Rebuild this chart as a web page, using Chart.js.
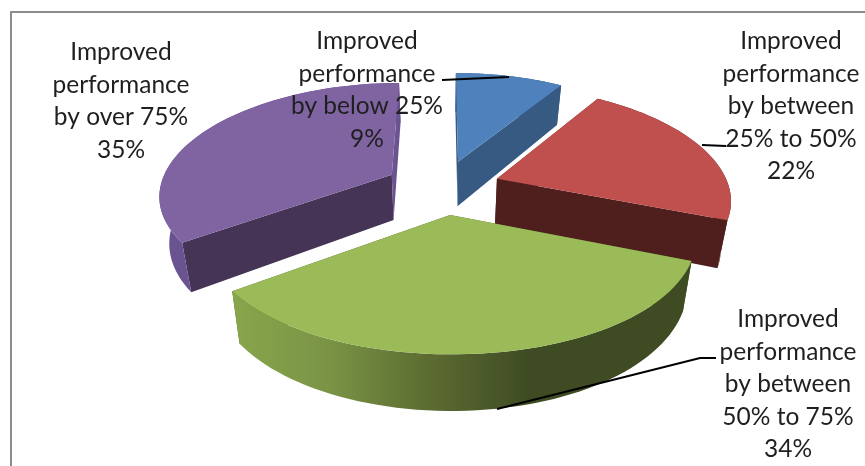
<!DOCTYPE html>
<html lang="en">
<head>
    <meta charset="UTF-8">
    <title>Improved performance</title>
    <script src="https://cdn.jsdelivr.net/npm/chart.js"></script>
    <style>
        html, body { margin: 0; padding: 0; background: #fff; overflow: hidden; }
        canvas { display: block; }
    </style>
</head>
<body>
<canvas id="pie" width="865" height="466"></canvas>
<script>
    const categories = [
        'Improved performance by below 25%',
        'Improved performance by between 25% to 50%',
        'Improved performance by between 50% to 75%',
        'Improved performance by over 75%'
    ];
    const percentValues = [9, 22, 34, 35];
    const sliceColors = ['#4f81bd', '#c0504d', '#9bbb59', '#8064a2'];
    const cutFaceColors = ['#375a82', '#4f1f1e', '#4a5a2a', '#453455'];
    const rimColors = ['#375a82', '#4f1f1e', '#3f4c23', '#6b5290'];

    // label lines, in the same order as the categories
    const labelLines = [
        ['Improved', 'performance', 'by below 25%', '9%'],
        ['Improved', 'performance', 'by between', '25% to 50%', '22%'],
        ['Improved', 'performance', 'by between', '50% to 75%', '34%'],
        ['Improved', 'performance', 'by over 75%', '35%']
    ];
    const labelCenters = [[367, 50], [791, 50], [788, 328], [121, 61]];
    const leaderLines = [
        [[442, 80], [509, 77]],
        [[702, 145], [726, 146]],
        [[716, 358], [700, 358], [497, 409]]
    ];

    // simple 3D camera for the tilted pie, x and y foreshorten differently
    const cam = { cx: 442.5, cy: 187, rx: 232, ry: 109, perspX: 0.17, perspY: 0.15, depth: 46, shrink: 0.035, explode: 0.25 };
    const lineHeight = 32.6;

    function project(wx, wy, drop) {
        const sx = 1 / (1 - cam.perspX * wy);
        const sy = 1 / (1 - cam.perspY * wy);
        return {
            x: cam.cx + cam.rx * wx * sx * (1 - drop * cam.shrink),
            y: cam.cy + cam.ry * wy * sy + drop * cam.depth * sy
        };
    }

    // world position of a point on the slice rim (r=1) or its tip (r=0)
    function slicePoint(arc, angle, r, drop) {
        const mid = (arc.startAngle + arc.endAngle) / 2;
        return project(
            cam.explode * Math.cos(mid) + r * Math.cos(angle),
            cam.explode * Math.sin(mid) + r * Math.sin(angle),
            drop
        );
    }

    function polygon(ctx, points, fill) {
        ctx.beginPath();
        points.forEach((p, i) => i ? ctx.lineTo(p.x, p.y) : ctx.moveTo(p.x, p.y));
        ctx.closePath();
        ctx.fillStyle = fill;
        ctx.fill();
    }

    function edgeFace(ctx, arc, edge, fill) {
        polygon(ctx, [
            slicePoint(arc, edge, 0, 0), slicePoint(arc, edge, 1, 0),
            slicePoint(arc, edge, 1, 1), slicePoint(arc, edge, 0, 1)
        ], fill);
    }

    function rimPoints(arc, drop, reverse) {
        const pts = [];
        const steps = 60;
        for (let i = 0; i <= steps; i++) {
            const t = reverse ? 1 - i / steps : i / steps;
            pts.push(slicePoint(arc, arc.startAngle + (arc.endAngle - arc.startAngle) * t, 1, drop));
        }
        return pts;
    }

    function greenRim(ctx) {
        const g = ctx.createLinearGradient(237, 0, 692, 0);
        g.addColorStop(0, '#87a54b');
        g.addColorStop(0.2, '#7a9446');
        g.addColorStop(0.42, '#5c6c31');
        g.addColorStop(0.64, '#3f4c23');
        g.addColorStop(1, '#3f4c23');
        return g;
    }

    const pie3d = {
        id: 'pie3d',
        beforeDatasetsDraw(chart) {
            const ctx = chart.ctx;
            const arcs = chart.getDatasetMeta(0).data;
            // back to front
            [0, 3, 1, 2].forEach(i => {
                const arc = arcs[i];
                edgeFace(ctx, arc, arc.startAngle, cutFaceColors[i]);
                edgeFace(ctx, arc, arc.endAngle, i === 3 ? rimColors[i] : cutFaceColors[i]);
                const rim = rimPoints(arc, 0, false).concat(rimPoints(arc, 1, true));
                polygon(ctx, rim, i === 2 ? greenRim(ctx) : rimColors[i]);
                polygon(ctx, [slicePoint(arc, arc.startAngle, 0, 0)].concat(rimPoints(arc, 0, false)), sliceColors[i]);
            });
            return false;
        },
        afterDraw(chart) {
            const ctx = chart.ctx;
            // frame of the original picture
            ctx.strokeStyle = '#8c8c8c';
            ctx.lineWidth = 2;
            ctx.beginPath();
            ctx.moveTo(11, 466);
            ctx.lineTo(11, 12);
            ctx.lineTo(865, 12);
            ctx.stroke();

            ctx.strokeStyle = '#000';
            ctx.lineWidth = 2;
            leaderLines.forEach(line => {
                ctx.beginPath();
                line.forEach((p, i) => i ? ctx.lineTo(p[0], p[1]) : ctx.moveTo(p[0], p[1]));
                ctx.stroke();
            });

            ctx.fillStyle = '#1f1f1f';
            ctx.font = '24.5px Lato';
            ctx.textAlign = 'center';
            ctx.textBaseline = 'middle';
            labelLines.forEach((lines, i) => {
                lines.forEach((text, j) => {
                    ctx.fillText(text, labelCenters[i][0], labelCenters[i][1] - 9 + j * lineHeight);
                });
            });
        }
    };

    new Chart(document.getElementById('pie'), {
        type: 'pie',
        data: {
            labels: categories,
            datasets: [{ data: percentValues, backgroundColor: sliceColors, borderWidth: 0 }]
        },
        options: {
            responsive: false,
            animation: false,
            plugins: { legend: { display: false }, tooltip: { enabled: false } }
        },
        plugins: [pie3d]
    });
</script>
</body>
</html>
